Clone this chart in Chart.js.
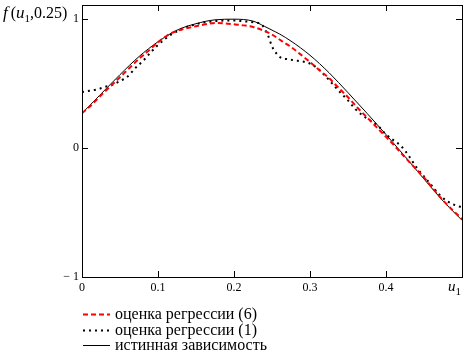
<!DOCTYPE html>
<html lang="ru">
<head>
<meta charset="UTF-8">
<title>f(u1, 0.25)</title>
<script src="https://cdn.jsdelivr.net/npm/chart.js@4.4.0/dist/chart.umd.min.js"></script>
<style>
    html, body { margin: 0; padding: 0; background: #fff; }
    #wrap { width: 472px; height: 353px; position: relative; }
</style>
</head>
<body>
<div id="wrap"><canvas id="chartCanvas"></canvas></div>
<script>
    // оценка регрессии (6)
    let uReg6 = [0, 0.0125, 0.025, 0.0375, 0.05, 0.0625, 0.075, 0.0875, 0.1, 0.1125, 0.125, 0.1375, 0.15, 0.1625,
        0.175, 0.1875, 0.2, 0.2125, 0.225, 0.2375, 0.25, 0.2625, 0.275, 0.2875, 0.3, 0.3125, 0.325, 0.3375, 0.35,
        0.3625, 0.375, 0.3875, 0.4, 0.4125, 0.425, 0.4375, 0.45, 0.4625, 0.475, 0.4875, 0.5];
    let yReg6 = [0.27, 0.335, 0.41, 0.48, 0.55, 0.622, 0.692, 0.755, 0.82, 0.875, 0.91, 0.93, 0.945, 0.96,
        0.97, 0.968, 0.96, 0.952, 0.94, 0.915, 0.88, 0.832, 0.785, 0.727, 0.668, 0.603, 0.543, 0.468, 0.394,
        0.313, 0.238, 0.163, 0.087, 0.01, -0.072, -0.15, -0.228, -0.32, -0.405, -0.48, -0.55];

    // оценка регрессии (1)
    let uReg1 = [0, 0.01, 0.02, 0.03, 0.04, 0.05, 0.06, 0.07, 0.08, 0.09, 0.1, 0.11, 0.12, 0.13, 0.14, 0.15,
        0.16, 0.17, 0.18, 0.19, 0.2, 0.21, 0.22, 0.23, 0.235, 0.24, 0.245, 0.25, 0.255, 0.262, 0.27, 0.28, 0.29,
        0.3, 0.31, 0.32, 0.33, 0.34, 0.35, 0.36, 0.37, 0.38, 0.39, 0.4, 0.41, 0.42, 0.43, 0.44, 0.45, 0.46,
        0.47, 0.48, 0.49, 0.5];
    let yReg1 = [0.435, 0.445, 0.455, 0.475, 0.49, 0.52, 0.555, 0.62, 0.674, 0.74, 0.8, 0.85, 0.89, 0.92, 0.945, 0.96,
        0.975, 0.982, 0.987, 0.99, 0.99, 0.985, 0.98, 0.972, 0.965, 0.93, 0.87, 0.79, 0.74, 0.70, 0.69, 0.68, 0.672,
        0.655, 0.618, 0.56, 0.495, 0.43, 0.37, 0.3, 0.25, 0.212, 0.17, 0.105, 0.06, 0.015, -0.06, -0.15, -0.22, -0.29,
        -0.36, -0.41, -0.44, -0.46];

    // истинная зависимость
    let uTrue = [0, 0.025, 0.05, 0.075, 0.1, 0.125, 0.15, 0.175, 0.2, 0.225, 0.24, 0.25, 0.26, 0.275, 0.3,
        0.325, 0.35, 0.375, 0.4, 0.425, 0.45, 0.475, 0.5];
    let yTrue = [0.27, 0.42, 0.57, 0.71, 0.825, 0.915, 0.965, 0.995, 1.0, 0.985, 0.945, 0.915, 0.885, 0.83, 0.72,
        0.585, 0.43, 0.27, 0.105, -0.065, -0.24, -0.41, -0.56];

    let seriesNames = ['оценка регрессии (6)', 'оценка регрессии (1)', 'истинная зависимость'];
    let xTicks = [0, 0.1, 0.2, 0.3, 0.4, 0.5];
    let xTickLabels = ['0', '0.1', '0.2', '0.3', '0.4', ''];
    let yTicks = [-1, 0, 1];
    let yTickLabels = ['\u2212 1', '0', '1'];

    const serif = "'Liberation Serif', 'DejaVu Serif', serif";

    let pts = (us, ys) => us.map((u, i) => ({ x: u, y: ys[i] }));

    // box around plot + inward tick marks
    let framePlugin = {
        id: 'frame',
        afterDatasetsDraw(chart) {
            let { ctx, chartArea: a, scales } = chart;
            ctx.save();
            ctx.strokeStyle = '#000';
            ctx.lineWidth = 1;
            ctx.strokeRect(Math.round(a.left) + 0.5, Math.round(a.top) + 0.5,
                Math.round(a.right - a.left), Math.round(a.bottom - a.top));
            ctx.beginPath();
            xTicks.forEach(v => {
                let px = Math.round(scales.x.getPixelForValue(v)) + 0.5;
                ctx.moveTo(px, a.bottom); ctx.lineTo(px, a.bottom - 6);
                ctx.moveTo(px, a.top); ctx.lineTo(px, a.top + 6);
            });
            yTicks.forEach(v => {
                let py = Math.round(scales.y.getPixelForValue(v)) + 0.5;
                ctx.moveTo(a.left, py); ctx.lineTo(a.left + 6, py);
                ctx.moveTo(a.right, py); ctx.lineTo(a.right - 6, py);
            });
            ctx.stroke();
            ctx.restore();
        },
        afterDraw(chart) {
            let { ctx, chartArea: a } = chart;
            ctx.save();
            ctx.fillStyle = '#000';
            ctx.textBaseline = 'alphabetic';
            ctx.textAlign = 'left';

            // axis title f(u1,0.25)
            let x = 3, y = 18;
            let parts = [
                ['italic 17px ' + serif, 'f', 0, 3],
                ['16px ' + serif, '(', 0, 0],
                ['italic 17px ' + serif, 'u', 0, 0],
                ['11px ' + serif, '1', 4, 0],
                ['16px ' + serif, ',0.25)', 0, 0]
            ];
            parts.forEach(p => {
                ctx.font = p[0];
                ctx.fillText(p[1], x, y + p[2]);
                x += ctx.measureText(p[1]).width + p[3];
            });

            // u1 at the end of the x axis
            let ux = chart.scales.x.getPixelForValue(0.5) - 14;
            ctx.font = 'italic 15px ' + serif;
            ctx.fillText('u', ux, a.bottom + 14);
            let uw = ctx.measureText('u').width;
            ctx.font = '11px ' + serif;
            ctx.fillText('1', ux + uw, a.bottom + 18);

            // legend
            chart.data.datasets.forEach((ds, i) => {
                let ly = 314 + i * 15.5;
                ctx.beginPath();
                ctx.strokeStyle = ds.borderColor;
                ctx.lineWidth = ds.borderWidth;
                ctx.setLineDash(ds.borderDash || []);
                ctx.moveTo(83, Math.round(ly) + 0.5);
                ctx.lineTo(110, Math.round(ly) + 0.5);
                ctx.stroke();
                ctx.setLineDash([]);
                ctx.font = '16px ' + serif;
                ctx.textBaseline = 'middle';
                ctx.fillText(ds.label, 115, ly + 1);
            });
            ctx.restore();
        }
    };

    let chart = new Chart(document.getElementById('chartCanvas').getContext('2d'), {
        type: 'line',
        data: {
            datasets: [
                {
                    label: seriesNames[0],
                    data: pts(uReg6, yReg6),
                    borderColor: '#ff0000',
                    borderWidth: 2,
                    borderDash: [5, 3],
                    pointRadius: 0,
                    cubicInterpolationMode: 'monotone'
                },
                {
                    label: seriesNames[1],
                    data: pts(uReg1, yReg1),
                    borderColor: '#000000',
                    borderWidth: 2,
                    borderDash: [2, 4],
                    pointRadius: 0,
                    cubicInterpolationMode: 'monotone'
                },
                {
                    label: seriesNames[2],
                    data: pts(uTrue, yTrue),
                    borderColor: '#000000',
                    borderWidth: 1,
                    pointRadius: 0,
                    cubicInterpolationMode: 'monotone'
                }
            ]
        },
        options: {
            responsive: true,
            maintainAspectRatio: false,
            animation: false,
            devicePixelRatio: 1,
            layout: { padding: { top: 5, right: 10, left: 0, bottom: 0 } },
            plugins: {
                legend: { display: false },
                tooltip: { enabled: false }
            },
            scales: {
                x: {
                    type: 'linear',
                    min: 0,
                    max: 0.5,
                    afterBuildTicks: s => { s.ticks = xTicks.map(v => ({ value: v })); },
                    afterFit: s => { s.height = 76; s.paddingLeft = 0; s.paddingRight = 0; },
                    grid: { display: false, drawTicks: false },
                    border: { display: false },
                    ticks: {
                        color: '#000',
                        font: { family: serif, size: 12 },
                        padding: 4,
                        maxRotation: 0,
                        autoSkip: false,
                        callback: (v) => xTickLabels[xTicks.indexOf(v)] ?? ''
                    }
                },
                y: {
                    type: 'linear',
                    min: -1,
                    max: 1.11,
                    afterBuildTicks: s => { s.ticks = yTicks.map(v => ({ value: v })); },
                    afterFit: s => { s.width = 82; s.paddingTop = 0; s.paddingBottom = 0; },
                    grid: { display: false, drawTicks: false },
                    border: { display: false },
                    ticks: {
                        color: '#000',
                        font: { family: serif, size: 12 },
                        padding: 3,
                        callback: (v) => yTickLabels[yTicks.indexOf(v)] ?? ''
                    }
                }
            }
        },
        plugins: [framePlugin]
    });
</script>
</body>
</html>
